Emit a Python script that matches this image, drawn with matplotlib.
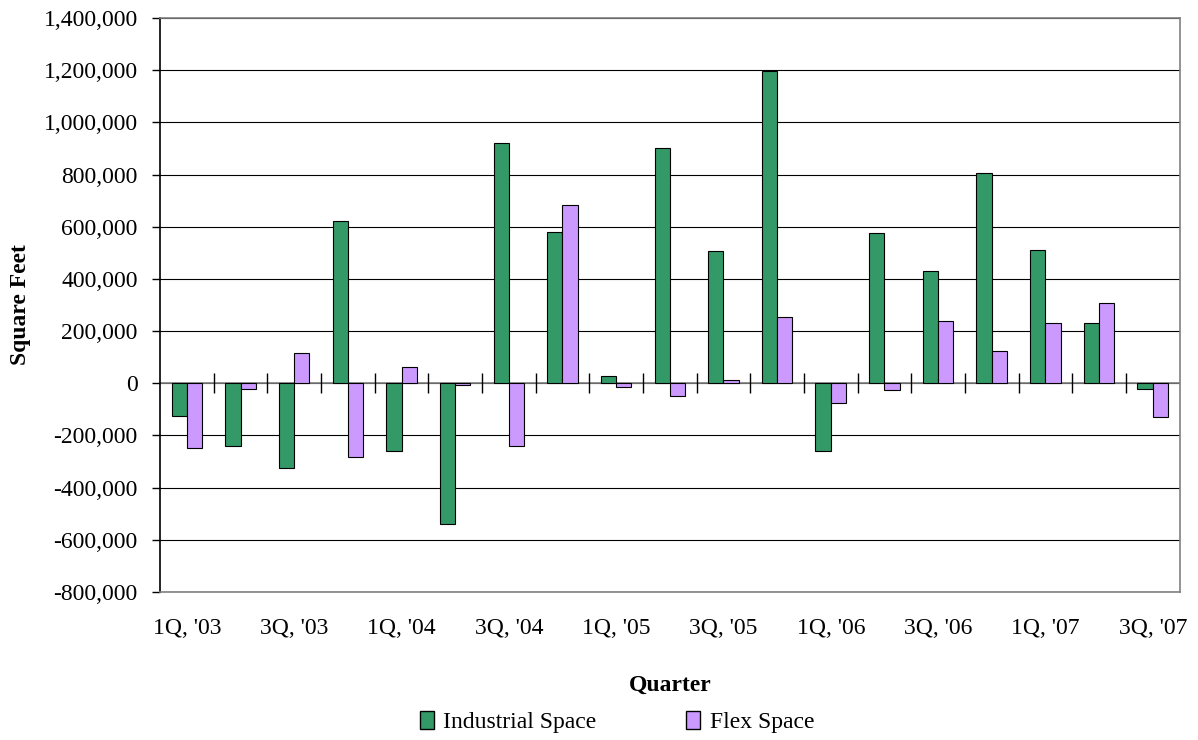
import numpy as np
import matplotlib
matplotlib.use("Agg")
import matplotlib.pyplot as plt
import matplotlib.ticker as ticker
from matplotlib.patches import Patch

quarters = ["1Q, '03", "2Q, '03", "3Q, '03", "4Q, '03",
            "1Q, '04", "2Q, '04", "3Q, '04", "4Q, '04",
            "1Q, '05", "2Q, '05", "3Q, '05", "4Q, '05",
            "1Q, '06", "2Q, '06", "3Q, '06", "4Q, '06",
            "1Q, '07", "2Q, '07", "3Q, '07"]
industrial = [-124000, -239000, -323000, 621000,
              -259000, -541000, 921000, 579000,
              27000, 901000, 506000, 1195000,
              -259000, 574000, 430000, 806000,
              512000, 232000, -21000]
flex = [-247000, -21000, 115000, -282000,
        61000, -6000, -239000, 682000,
        -15000, -48000, 12000, 253000,
        -76000, -27000, 238000, 123000,
        232000, 307000, -130000]

plt.rcParams['font.family'] = ['Liberation Serif', 'DejaVu Serif']
fs = 17

fig = plt.figure(figsize=(11.98, 7.40), dpi=100)
ax = fig.add_axes([0.1336, 0.2, 0.851, 0.7757])

x = np.arange(len(quarters))
w = 0.285
ax.bar(x - w/2, industrial, w, color='#339966', edgecolor='black', linewidth=0.8, zorder=3)
ax.bar(x + w/2, flex, w, color='#CC99FF', edgecolor='black', linewidth=0.8, zorder=3)

ax.set_xlim(-0.5, len(quarters) - 0.5)
ax.set_ylim(-800000, 1400000)
ax.yaxis.set_major_locator(ticker.MultipleLocator(200000))
ax.yaxis.set_major_formatter(ticker.FuncFormatter(lambda v, p: "{:,.0f}".format(v)))
ax.grid(axis='y', color='black', linewidth=0.8, zorder=0)

# zero axis line with cross ticks between categories
ax.axhline(0, color='#808080', linewidth=1.2, zorder=2)
bounds = np.arange(len(quarters) + 1) - 0.5
ax.plot(bounds[1:-1], np.zeros(len(bounds) - 2), linestyle='none', marker='|',
        markersize=14, color='black', markeredgewidth=1, zorder=4)

ax.set_xticks(x[::2])
ax.set_xticklabels(quarters[::2], fontsize=fs)
ax.tick_params(axis='x', length=0, pad=19)
ax.tick_params(axis='y', labelsize=fs, direction='out', length=6, width=1, color='black', pad=10)

for s in ['top', 'right', 'bottom']:
    ax.spines[s].set_color('#808080')
    ax.spines[s].set_linewidth(1.2)
ax.spines['left'].set_color('black')
ax.spines['left'].set_linewidth(1.2)

ax.set_ylabel("Square Feet", fontsize=fs, fontweight='bold')
ax.yaxis.set_label_coords(-0.127, 0.5)
ax.set_xlabel("Quarter", fontsize=fs, fontweight='bold')
ax.xaxis.set_label_coords(0.5, -0.145)

handles = [Patch(facecolor='#339966', edgecolor='black', label='Industrial Space'),
           Patch(facecolor='#CC99FF', edgecolor='black', label='Flex Space')]
fig.legend(handles=handles, loc='center', bbox_to_anchor=(0.515, 0.024), ncol=2,
           frameon=False, fontsize=fs, handlelength=0.6, handleheight=0.8,
           handletextpad=0.4, columnspacing=3.8)

fig.savefig("out.png", dpi=100)
